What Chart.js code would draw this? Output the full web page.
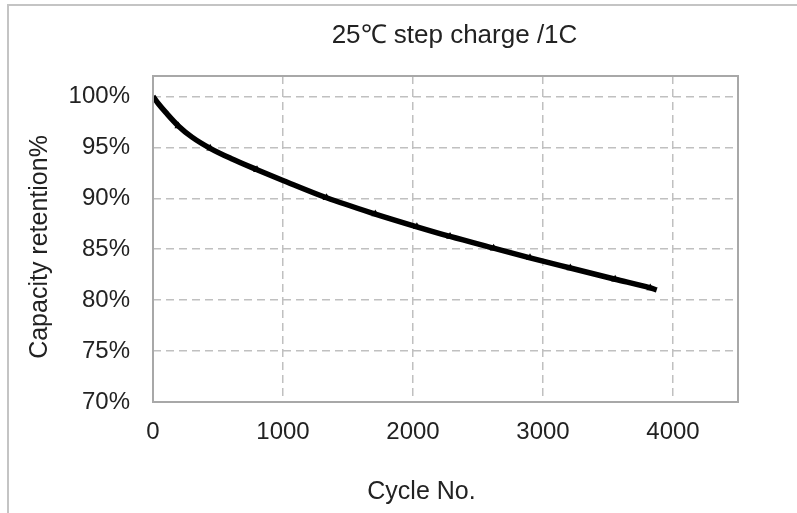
<!DOCTYPE html>
<html>
<head>
<meta charset="utf-8">
<script src="https://cdn.jsdelivr.net/npm/chart.js@4"></script>
<style>
    body { margin: 0; background: #fff; }
    #wrap { width: 797px; height: 513px; overflow: hidden; }
</style>
</head>
<body>
<div id="wrap"><canvas id="cycle-chart" width="797" height="513"></canvas></div>
<script>
// values
const cycles = [0, 40, 100, 195, 300, 440, 600, 800, 1000, 1335, 1710, 2030, 2285, 2620, 2900, 3210, 3555, 3825, 3875];
const retention = [100, 99.3, 98.4, 97.1, 96.0, 94.9, 93.9, 92.8, 91.75, 90.05, 88.45, 87.2, 86.25, 85.1, 84.15, 83.15, 82.05, 81.2, 81.0];
// cycles where the reference shows a small marker on the line
const markerCycles = [195, 440, 800, 1335, 1710, 2030, 2285, 2620, 2900, 3210, 3555, 3825];
const yTicks = [70, 75, 80, 85, 90, 95, 100];
const xTicks = [0, 1000, 2000, 3000, 4000];

const chartTitle = '25℃ step charge /1C';
const xCaption = 'Cycle No.';
const yCaption = 'Capacity retention%';

const FONT = "'Liberation Sans', Arial, sans-serif";
const TEXT = '#222';

// outer frame, plot frame and the captions
const decorations = {
    id: 'decorations',
    beforeDraw(chart) {
        const ctx = chart.ctx;
        ctx.save();
        ctx.strokeStyle = '#c4c4c4';
        ctx.lineWidth = 2;
        ctx.strokeRect(8, 5, 900, 600);
        ctx.restore();
    },
    afterDraw(chart) {
        const {ctx, chartArea: a} = chart;
        ctx.save();
        ctx.strokeStyle = '#a8a8a8';
        ctx.lineWidth = 2;
        ctx.strokeRect(a.left, a.top, a.right - a.left, a.bottom - a.top);

        ctx.fillStyle = TEXT;
        ctx.textAlign = 'center';
        ctx.textBaseline = 'middle';
        ctx.font = '26px ' + FONT;
        ctx.fillText(chartTitle, (a.left + a.right) / 2 + 9, 36);
        ctx.font = '25px ' + FONT;
        ctx.fillText(xCaption, (a.left + a.right) / 2 - 24, 492);
        ctx.translate(40, (a.top + a.bottom) / 2 + 8);
        ctx.rotate(-Math.PI / 2);
        ctx.fillText(yCaption, 0, 0);
        ctx.restore();
    }
};

const points = cycles.map((c, i) => ({x: c, y: retention[i]}));
const radii = cycles.map(c => markerCycles.includes(c) ? 4.5 : 0);

new Chart(document.getElementById('cycle-chart').getContext('2d'), {
    type: 'line',
    data: {
        datasets: [{
            label: 'Capacity retention',
            data: points,
            borderColor: '#000',
            backgroundColor: '#000',
            borderWidth: 5.5,
            cubicInterpolationMode: 'monotone',
            pointStyle: 'triangle',
            pointRadius: radii,
            pointBorderWidth: 0
        }]
    },
    options: {
        responsive: false,
        animation: false,
        layout: {
            padding: {top: 76, right: 59, bottom: 51, left: 0}
        },
        plugins: {
            legend: {display: false},
            title: {display: false},
            tooltip: {enabled: false}
        },
        scales: {
            x: {
                type: 'linear',
                min: 0,
                max: 4500,
                afterBuildTicks: s => { s.ticks = xTicks.map(v => ({value: v})); },
                ticks: {
                    color: TEXT,
                    padding: 15.6,
                    maxRotation: 0,
                    font: {family: FONT, size: 24},
                    callback: v => String(v)
                },
                grid: {
                    color: '#c0c0c0',
                    lineWidth: 1.5,
                    drawTicks: false
                },
                border: {display: false, dash: [8, 5]}
            },
            y: {
                min: 70,
                max: 102,
                afterBuildTicks: s => { s.ticks = yTicks.map(v => ({value: v})); },
                afterFit: s => { s.width = 153; },
                ticks: {
                    color: TEXT,
                    padding: 23,
                    font: {family: FONT, size: 24},
                    callback: v => v + '%'
                },
                grid: {
                    color: '#c0c0c0',
                    lineWidth: 1.5,
                    drawTicks: false
                },
                border: {display: false, dash: [8, 5]}
            }
        }
    },
    plugins: [decorations]
});
</script>
</body>
</html>
